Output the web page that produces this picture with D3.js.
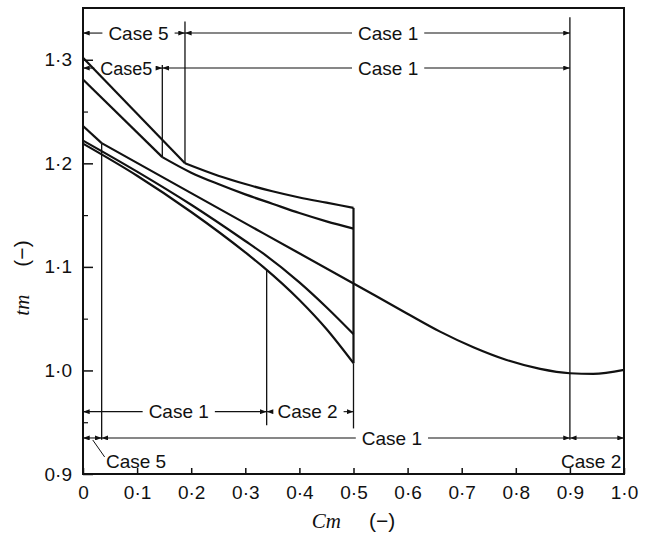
<!DOCTYPE html>
<html>
<head>
<meta charset="utf-8">
<script src="https://cdn.jsdelivr.net/npm/d3@7"></script>
<style>
  body { margin: 0; background: #fff; }
  text { font-family: "Liberation Sans", Arial, sans-serif; fill: #111; }
  .ital { font-family: "Liberation Serif", serif; font-style: italic; }
</style>
</head>
<body>
<div id="chart"></div>
<script>
// axis ticks
var cmTicks = [0, 0.1, 0.2, 0.3, 0.4, 0.5, 0.6, 0.7, 0.8, 0.9, 1.0];
var tmTicks = [0.9, 1.0, 1.1, 1.2, 1.3];
var tmMinor = [0.95, 1.05, 1.15, 1.25];

// curves (kink = index where the straight part ends)
var curveA_cm = [0, 0.1885, 0.25, 0.3, 0.35, 0.4, 0.45, 0.5];
var curveA_tm = [1.302, 1.200, 1.188, 1.180, 1.173, 1.167, 1.162, 1.157];
var curveB_cm = [0, 0.1466, 0.2, 0.25, 0.3, 0.35, 0.4, 0.45, 0.5];
var curveB_tm = [1.281, 1.206, 1.191, 1.180, 1.170, 1.161, 1.152, 1.144, 1.137];
var curveC_cm = [0, 0.0345, 0.2, 0.3327, 0.5, 0.598, 0.66, 0.7215, 0.783, 0.845, 0.9, 0.943, 1.0];
var curveC_tm = [1.236, 1.2195, 1.1712, 1.1326, 1.084, 1.0553, 1.0375, 1.0224, 1.0101, 1.0015, 0.9973, 0.9966, 1.0005];
var curveD_cm = [0, 0.1, 0.2, 0.3, 0.333, 0.4, 0.45, 0.5];
var curveD_tm = [1.222, 1.192, 1.160, 1.125, 1.113, 1.085, 1.061, 1.035];
var curveE_cm = [0, 0.1, 0.2, 0.3, 0.333, 0.4, 0.45, 0.5];
var curveE_tm = [1.219, 1.188, 1.153, 1.114, 1.100, 1.068, 1.040, 1.007];
var kinks = [1, 1, 1, 0, 0];

// case boundaries (vertical lines)
var boundaryCm = [0.0345, 0.1466, 0.1885, 0.3395, 0.5, 0.9];
var boundaryTop = [1.2195, 1.295, 1.337, 1.097, 1.007, 1.341];
var boundaryBottom = [0.933, 1.206, 1.200, 0.947, 0.944, 0.933];

// case spans
var spanRow = [1, 1, 2, 2, 3, 3, 4, 4, 4];
var spanLabel = ["Case 5", "Case 1", "Case5", "Case 1", "Case 1", "Case 2", "Case 5", "Case 1", "Case 2"];
var spanFrom = [0, 0.1885, 0, 0.1466, 0, 0.3395, 0, 0.0345, 0.9];
var spanTo = [0.1885, 0.9, 0.1466, 0.9, 0.3395, 0.5, 0.0345, 0.9, 1.0];

var width = 651, height = 533;
var x = d3.scaleLinear().domain([0, 1]).range([83, 624]);
var y = d3.scaleLinear().domain([0.9, 1.35]).range([474, 8]);

var svg = d3.select("#chart").append("svg")
  .attr("width", width)
  .attr("height", height);

var defs = svg.append("defs");
defs.append("marker")
  .attr("id", "arr")
  .attr("viewBox", "0 0 8 6")
  .attr("refX", 8).attr("refY", 3)
  .attr("markerWidth", 7).attr("markerHeight", 5)
  .attr("markerUnits", "userSpaceOnUse")
  .attr("orient", "auto-start-reverse")
  .append("path")
  .attr("d", "M0,0L8,3L0,6Z")
  .attr("fill", "#111");

var fmt = function(d) {
  return d === 0 ? "0" : d3.format(".1f")(d).replace(".", "\u00b7");
};

// frame
svg.append("rect")
  .attr("x", x(0)).attr("y", y(1.35))
  .attr("width", x(1) - x(0)).attr("height", y(0.9) - y(1.35))
  .attr("fill", "none").attr("stroke", "#111").attr("stroke-width", 2);

// axes with inward ticks
var xAxis = svg.append("g")
  .attr("transform", "translate(0," + y(0.9) + ")")
  .call(d3.axisBottom(x).tickValues(cmTicks).tickFormat(fmt)
    .tickSizeInner(-6).tickSizeOuter(0).tickPadding(12));
xAxis.select(".domain").remove();
xAxis.selectAll("text").attr("font-size", 19).attr("font-family", "Liberation Sans");
xAxis.selectAll("line").attr("stroke", "#111").attr("stroke-width", 1.5);

var yAxis = svg.append("g")
  .attr("transform", "translate(" + x(0) + ",0)")
  .call(d3.axisLeft(y).tickValues(tmTicks).tickFormat(fmt)
    .tickSizeInner(-10).tickSizeOuter(0).tickPadding(11));
yAxis.select(".domain").remove();
yAxis.selectAll("text").attr("font-size", 19).attr("font-family", "Liberation Sans");
yAxis.selectAll("line").attr("stroke", "#111").attr("stroke-width", 1.5);

var yMinor = svg.append("g")
  .attr("transform", "translate(" + x(0) + ",0)")
  .call(d3.axisLeft(y).tickValues(tmMinor).tickFormat("")
    .tickSizeInner(-5).tickSizeOuter(0));
yMinor.select(".domain").remove();
yMinor.selectAll("line").attr("stroke", "#111").attr("stroke-width", 1.2);

// axis titles
svg.append("text")
  .attr("x", x(0.5)).attr("y", 528)
  .attr("text-anchor", "middle")
  .attr("font-size", 21)
  .call(function(t) {
    t.append("tspan").attr("class", "ital").text("Cm");
    t.append("tspan").attr("dx", 28).text("(\u2212)");
  });

svg.append("text")
  .attr("transform", "translate(29,278) rotate(-90)")
  .attr("text-anchor", "middle")
  .attr("font-size", 21)
  .call(function(t) {
    t.append("tspan").attr("class", "ital").text("tm");
    t.append("tspan").attr("dx", 28).text("(\u2212)");
  });

// boundary lines
svg.append("g").selectAll("line")
  .data(boundaryCm)
  .enter().append("line")
  .attr("x1", function(d) { return x(d); })
  .attr("x2", function(d) { return x(d); })
  .attr("y1", function(d, i) { return y(boundaryTop[i]); })
  .attr("y2", function(d, i) { return y(boundaryBottom[i]); })
  .attr("stroke", "#111")
  .attr("stroke-width", 1.3);

// curves
var curves = [
  [curveA_cm, curveA_tm],
  [curveB_cm, curveB_tm],
  [curveC_cm, curveC_tm],
  [curveD_cm, curveD_tm],
  [curveE_cm, curveE_tm]
];

var straight = d3.line()
  .x(function(d) { return x(d[0]); })
  .y(function(d) { return y(d[1]); });
var smooth = d3.line()
  .x(function(d) { return x(d[0]); })
  .y(function(d) { return y(d[1]); })
  .curve(d3.curveMonotoneX);

var curveG = svg.append("g")
  .attr("fill", "none")
  .attr("stroke", "#111")
  .attr("stroke-width", 2.2)
  .attr("stroke-linejoin", "round");

curves.forEach(function(c, i) {
  var pts = c[0].map(function(v, j) { return [v, c[1][j]]; });
  var k = kinks[i];
  if (k > 0) {
    curveG.append("path").attr("d", straight(pts.slice(0, k + 1)));
  }
  curveG.append("path").attr("d", smooth(pts.slice(k)));
});

// closing line at Cm = 0.5 between top and bottom curve ends
curveG.append("line")
  .attr("x1", x(curveA_cm[curveA_cm.length - 1]))
  .attr("x2", x(curveE_cm[curveE_cm.length - 1]))
  .attr("y1", y(curveA_tm[curveA_tm.length - 1]))
  .attr("y2", y(curveE_tm[curveE_tm.length - 1]));

// case annotations
var rowTm = { 1: 1.3258, 2: 1.292, 3: 0.9602, 4: 0.9348 };
var labelAt = [0.1026, 0.564, 0.080, 0.564, 0.177, 0.415, null, 0.571, null];
var gap = 6;

var ann = svg.append("g");
spanLabel.forEach(function(lab, i) {
  var yy = y(rowTm[spanRow[i]]);
  var x0 = x(spanFrom[i]), x1 = x(spanTo[i]);
  if (labelAt[i] === null) {
    // label placed below the row
    ann.append("line")
      .attr("x1", x0).attr("x2", x1).attr("y1", yy).attr("y2", yy)
      .attr("stroke", "#111").attr("stroke-width", 1.1)
      .attr("marker-start", "url(#arr)").attr("marker-end", "url(#arr)");
    return;
  }
  var t = ann.append("text")
    .attr("x", x(labelAt[i])).attr("y", yy)
    .attr("dy", "0.36em")
    .attr("text-anchor", "middle")
    .attr("font-size", spanRow[i] === 2 && lab === "Case5" ? 18 : 19)
    .text(lab);
  var w = t.node().getComputedTextLength();
  var tx = x(labelAt[i]);
  ann.append("line")
    .attr("x1", x0).attr("x2", tx - w / 2 - gap).attr("y1", yy).attr("y2", yy)
    .attr("stroke", "#111").attr("stroke-width", 1.1)
    .attr("marker-start", "url(#arr)");
  ann.append("line")
    .attr("x1", tx + w / 2 + gap).attr("x2", x1).attr("y1", yy).attr("y2", yy)
    .attr("stroke", "#111").attr("stroke-width", 1.1)
    .attr("marker-end", "url(#arr)");
});

// labels below row 4
var y4 = y(rowTm[4]);
ann.append("text")
  .attr("x", x(0.0425)).attr("y", y4 + 23)
  .attr("dy", "0.36em")
  .attr("font-size", 19)
  .text("Case 5");
ann.append("line")
  .attr("x1", x(0.018)).attr("y1", y4 + 2)
  .attr("x2", x(0.04)).attr("y2", y4 + 19)
  .attr("stroke", "#111").attr("stroke-width", 1);
ann.append("text")
  .attr("x", x(0.995)).attr("y", y4 + 23)
  .attr("dy", "0.36em")
  .attr("text-anchor", "end")
  .attr("font-size", 19)
  .text("Case 2");
</script>
</body>
</html>
